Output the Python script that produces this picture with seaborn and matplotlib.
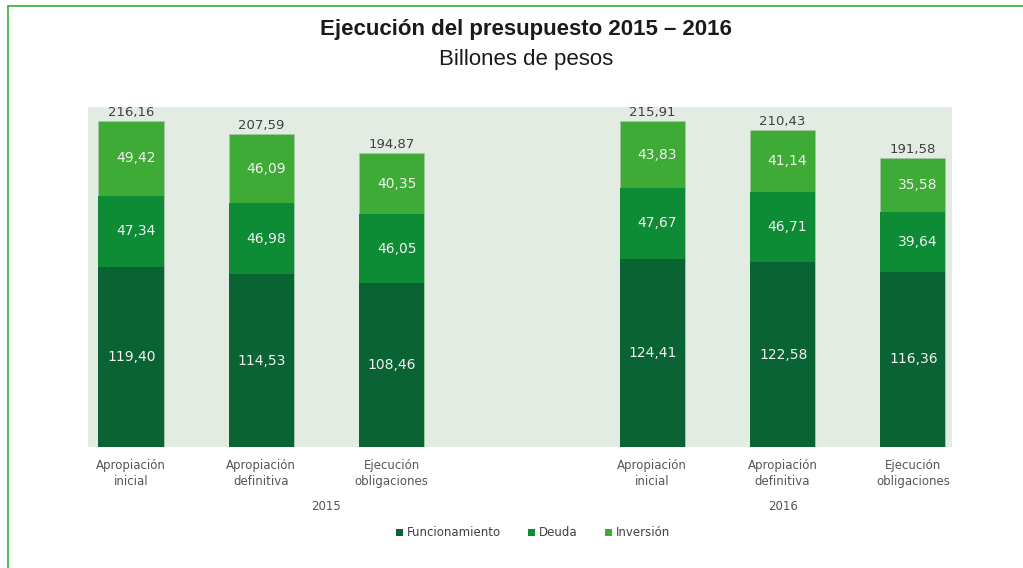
import pandas as pd
import matplotlib.pyplot as plt
import seaborn as sns
from matplotlib.patches import Patch
from matplotlib.lines import Line2D

categorias = ['Apropiación\ninicial', 'Apropiación\ndefinitiva', 'Ejecución\nobligaciones',
              'Apropiación\ninicial', 'Apropiación\ndefinitiva', 'Ejecución\nobligaciones']
anios = ['2015', '2016']
posiciones = [0, 1, 2, 4, 5, 6]
funcionamiento = [119.40, 114.53, 108.46, 124.41, 122.58, 116.36]
deuda = [47.34, 46.98, 46.05, 47.67, 46.71, 39.64]
inversion = [49.42, 46.09, 40.35, 43.83, 41.14, 35.58]
totales = [216.16, 207.59, 194.87, 215.91, 210.43, 191.58]

COLORES = {'Funcionamiento': '#0a6333', 'Deuda': '#0e8b35', 'Inversión': '#3dab36'}
FUENTE_TITULO = ['Liberation Sans', 'DejaVu Sans']

df = pd.DataFrame({'pos': posiciones, 'func': funcionamiento,
                   'deuda': deuda, 'inv': inversion})
df['func_deuda'] = df['func'] + df['deuda']
df['total'] = df['func_deuda'] + df['inv']

def fmt(v):
    return f"{v:.2f}".replace('.', ',')

sns.set_style('white')
fig = plt.figure(figsize=(10.23, 5.68), dpi=100)
W, H = 1023, 568
ax = fig.add_axes([88 / W, 1 - 447 / H, (952 - 88) / W, (447 - 107) / H])
ax.set_facecolor('#e3ece3')

# stacked bars drawn as overlapping cumulative bars
edge = dict(edgecolor='#b3c0b3', linewidth=0.4)
sns.barplot(data=df, x='pos', y='total', native_scale=True, width=0.5,
            color=COLORES['Inversión'], saturation=1, ax=ax, **edge)
sns.barplot(data=df, x='pos', y='func_deuda', native_scale=True, width=0.5,
            color=COLORES['Deuda'], saturation=1, ax=ax, linewidth=0)
sns.barplot(data=df, x='pos', y='func', native_scale=True, width=0.5,
            color=COLORES['Funcionamiento'], saturation=1, ax=ax, linewidth=0)

ax.set_xlim(-0.33, 6.3)
ax.set_ylim(0, 225.5)
sns.despine(ax=ax, left=True, bottom=True)
ax.set_yticks([])
ax.set_xticks(posiciones)
ax.set_xticklabels(categorias, fontsize=8.5, color='#555555', linespacing=1.25)
ax.tick_params(axis='x', length=0, pad=9)
ax.set_xlabel('')
ax.set_ylabel('')

lab = dict(ha='right', va='center', color='#f2f2f2', fontsize=10)
for i, p in enumerate(posiciones):
    f, d, v = funcionamiento[i], deuda[i], inversion[i]
    ax.text(p + 0.19, f / 2, fmt(f), **lab)
    ax.text(p + 0.19, f + d / 2, fmt(d), **lab)
    ax.text(p + 0.19, f + d + v / 2, fmt(v), **lab)
    ax.annotate(fmt(totales[i]), (p, df['total'][i]), xytext=(0, 1.5),
                textcoords='offset points', ha='center', va='bottom',
                color='#404040', fontsize=9.5)

# year labels
for anio, xp in zip(anios, [1.5, 5]):
    ax.text(xp, -0.175, anio, transform=ax.get_xaxis_transform(),
            ha='center', va='center', fontsize=8.5, color='#555555')

fig.text(526 / W, 1 - 30 / H, 'Ejecución del presupuesto 2015 – 2016',
         ha='center', va='center', fontsize=16, fontweight='bold',
         family=FUENTE_TITULO, color='#1a1a1a')
fig.text(526 / W, 1 - 60 / H, 'Billones de pesos', ha='center', va='center',
         fontsize=16, family=FUENTE_TITULO, color='#1a1a1a')

handles = [Patch(facecolor=c, edgecolor='none') for c in COLORES.values()]
fig.legend(handles, list(COLORES.keys()), loc='center',
           bbox_to_anchor=(533 / W, 1 - 533 / H), ncol=3, frameon=False,
           fontsize=8.5, handlelength=0.6, handleheight=0.6, handletextpad=0.35,
           columnspacing=2.3, labelcolor='#404040')

# green frame (top and left)
fig.add_artist(Line2D([8 / W, 1], [1 - 6 / H, 1 - 6 / H], color='#3aaa3a',
                      linewidth=1.2, transform=fig.transFigure))
fig.add_artist(Line2D([8 / W, 8 / W], [0, 1 - 6 / H], color='#3aaa3a',
                      linewidth=1.2, transform=fig.transFigure))

fig.savefig('out.png', dpi=100)
